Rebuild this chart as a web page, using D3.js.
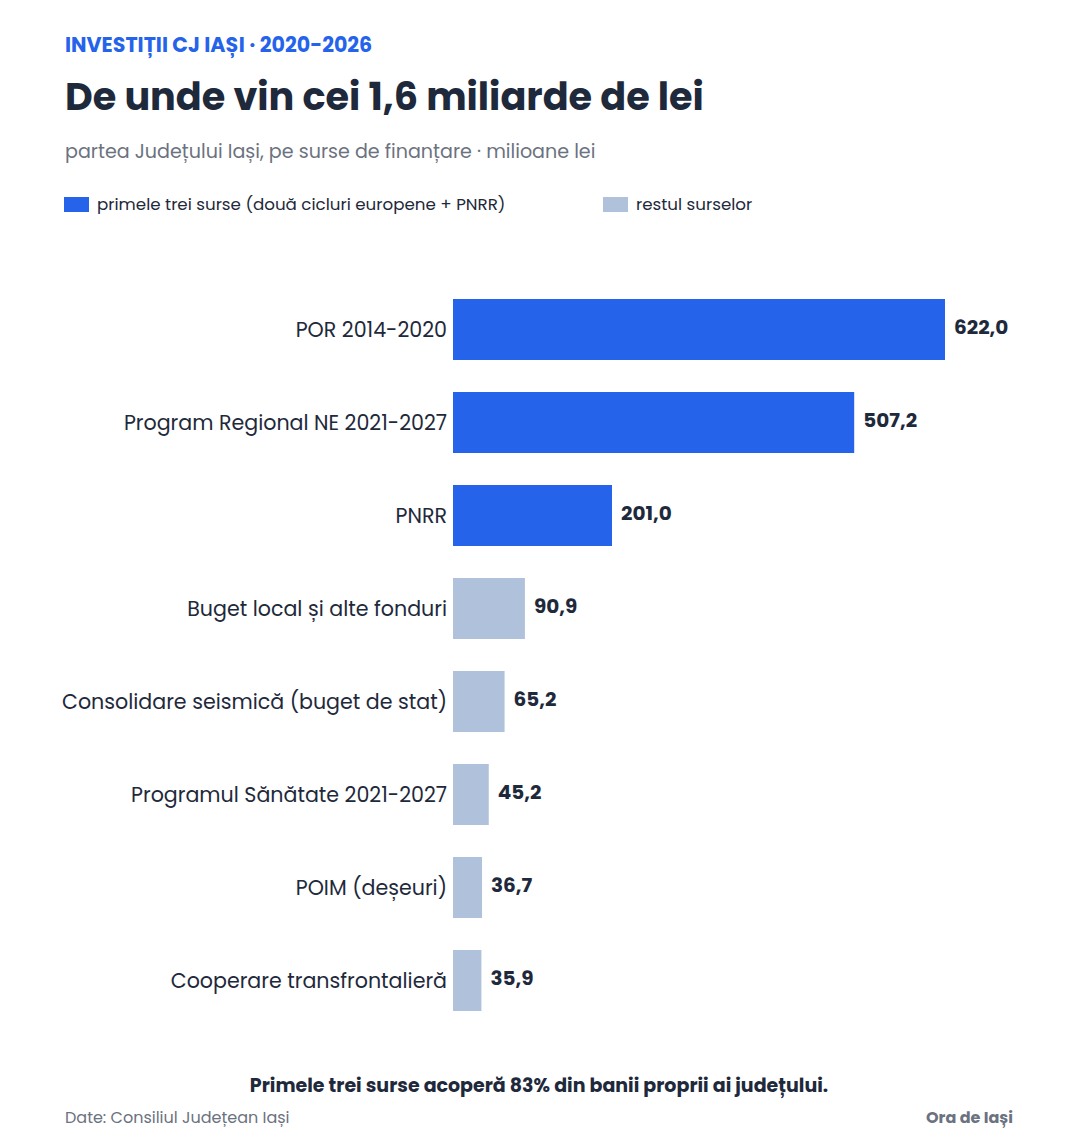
<!DOCTYPE html>
<html>
<head>
<meta charset="utf-8">
<script src="https://cdn.jsdelivr.net/npm/d3@7"></script>
<style>
  body { margin: 0; background: #fff; }
  text { font-family: Poppins, Inter, "Noto Sans", sans-serif; }
</style>
</head>
<body>
<svg id="chart" width="1078" height="1144"></svg>
<script>
// sources and amounts (milioane lei)
var sources = ["POR 2014-2020", "Program Regional NE 2021-2027", "PNRR",
    "Buget local și alte fonduri", "Consolidare seismică (buget de stat)",
    "Programul Sănătate 2021-2027", "POIM (deșeuri)", "Cooperare transfrontalieră"];
var amounts = [622.0, 507.2, 201.0, 90.9, 65.2, 45.2, 36.7, 35.9];
var topThree = [true, true, true, false, false, false, false, false];
var legendLabels = ["primele trei surse (două cicluri europene + PNRR)", "restul surselor"];

var BLUE = "#2563eb", LIGHT = "#b0c1dc", DARK = "#1e293b", GREY = "#6b7280";

function draw(){
    var svg = d3.select("#chart");
    var rows = sources.map(function(s, i){ return {name: s, value: amounts[i], top: topThree[i]}; });

    var x = d3.scaleLinear().domain([0, 622]).range([453, 945]);
    var y = d3.scaleBand().domain(sources).range([299, 1011]).paddingInner(32/93).paddingOuter(0);

    // header
    svg.append("text").attr("x", 65).attr("y", 52)
        .attr("font-size", 20.6).attr("font-weight", 700).attr("fill", BLUE)
        .text("INVESTIȚII CJ IAȘI · 2020-2026");
    svg.append("text").attr("x", 65).attr("y", 110)
        .attr("font-size", 38.2).attr("font-weight", 700).attr("fill", DARK)
        .text("De unde vin cei 1,6 miliarde de lei");
    svg.append("text").attr("x", 65).attr("y", 158)
        .attr("font-size", 19.1).attr("fill", GREY)
        .text("partea Județului Iași, pe surse de finanțare · milioane lei");

    // legend
    var leg = svg.append("g");
    [[64, BLUE], [603, LIGHT]].forEach(function(d, i){
        leg.append("rect").attr("x", d[0]).attr("y", 197).attr("width", 25).attr("height", 15).attr("fill", d[1]);
        leg.append("text").attr("x", d[0] + 33).attr("y", 210)
            .attr("font-size", 16.7).attr("fill", DARK).text(legendLabels[i]);
    });

    // bars
    var g = svg.append("g");
    g.selectAll("rect.bar").data(rows).enter().append("rect")
        .attr("class", "bar")
        .attr("x", x(0))
        .attr("y", function(d){ return y(d.name); })
        .attr("width", function(d){ return x(d.value) - x(0); })
        .attr("height", y.bandwidth())
        .attr("fill", function(d){ return d.top ? BLUE : LIGHT; });

    g.selectAll("text.cat").data(rows).enter().append("text")
        .attr("class", "cat")
        .attr("x", x(0) - 6)
        .attr("y", function(d){ return y(d.name) + y.bandwidth() / 2; })
        .attr("dy", "0.35em")
        .attr("text-anchor", "end")
        .attr("font-size", 20.6).attr("fill", DARK)
        .text(function(d){ return d.name; });

    var fmt = function(v){ return v.toFixed(1).replace(".", ","); };
    g.selectAll("text.val").data(rows).enter().append("text")
        .attr("class", "val")
        .attr("x", function(d){ return x(d.value) + 9; })
        .attr("y", function(d){ return y(d.name) + y.bandwidth() / 2 - 3; })
        .attr("dy", "0.35em")
        .attr("font-size", 20).attr("font-weight", 700).attr("fill", DARK)
        .text(function(d){ return fmt(d.value); });

    // footer
    svg.append("text").attr("x", 539).attr("y", 1092).attr("text-anchor", "middle")
        .attr("font-size", 19).attr("font-weight", 700).attr("fill", DARK)
        .text("Primele trei surse acoperă 83% din banii proprii ai județului.");
    svg.append("text").attr("x", 65).attr("y", 1123)
        .attr("font-size", 16).attr("fill", GREY)
        .text("Date: Consiliul Județean Iași");
    svg.append("text").attr("x", 1013).attr("y", 1123).attr("text-anchor", "end")
        .attr("font-size", 16).attr("font-weight", 700).attr("fill", GREY)
        .text("Ora de Iași");
}

draw();
</script>
</body>
</html>
